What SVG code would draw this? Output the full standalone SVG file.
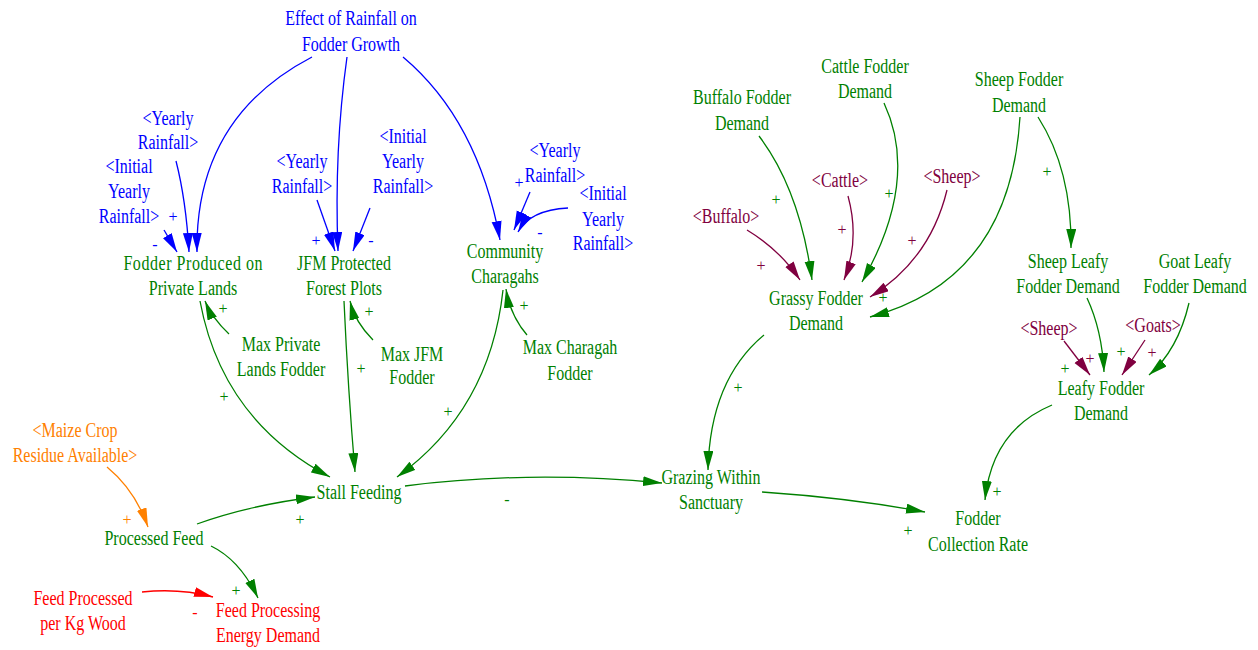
<svg xmlns="http://www.w3.org/2000/svg" width="1258" height="650" viewBox="0 0 1258 650">
<style>
  text { font-family: "Liberation Serif", "Times New Roman", serif; font-size: 20px; text-anchor: middle; }
  .pol { font-size: 16px; }
  .b { fill: #0000ff; } .g { fill: #008000; } .m { fill: #800040; } .o { fill: #ff8000; } .r { fill: #ff0000; }
  .lb { fill: none; stroke: #0000ff; stroke-width: 1.3; marker-end: url(#ab); }
  .lg { fill: none; stroke: #008000; stroke-width: 1.3; marker-end: url(#ag); }
  .lm { fill: none; stroke: #800040; stroke-width: 1.3; marker-end: url(#am); }
  .lo { fill: none; stroke: #ff8000; stroke-width: 1.3; marker-end: url(#ao); }
  .lr { fill: none; stroke: #ff0000; stroke-width: 1.3; marker-end: url(#ar); }
</style>
<defs>
  <marker id="ab" markerUnits="userSpaceOnUse" markerWidth="20" markerHeight="11" refX="19" refY="5" orient="auto"><path d="M0,0 L19,5 L0,10 z" fill="#0000ff"/></marker>
  <marker id="ag" markerUnits="userSpaceOnUse" markerWidth="20" markerHeight="11" refX="19" refY="5" orient="auto"><path d="M0,0 L19,5 L0,10 z" fill="#008000"/></marker>
  <marker id="am" markerUnits="userSpaceOnUse" markerWidth="20" markerHeight="11" refX="19" refY="5" orient="auto"><path d="M0,0 L19,5 L0,10 z" fill="#800040"/></marker>
  <marker id="ao" markerUnits="userSpaceOnUse" markerWidth="20" markerHeight="11" refX="19" refY="5" orient="auto"><path d="M0,0 L19,5 L0,10 z" fill="#ff8000"/></marker>
  <marker id="ar" markerUnits="userSpaceOnUse" markerWidth="20" markerHeight="11" refX="19" refY="5" orient="auto"><path d="M0,0 L19,5 L0,10 z" fill="#ff0000"/></marker>
</defs>
<rect width="1258" height="650" fill="#ffffff"/>

<!-- links -->
<g id="connectors">
  <path class="lb" d="M312,57 Q195,118 197,252"/>
  <path class="lb" d="M176,161 Q186,200 189,252"/>
  <path class="lb" d="M164,230 L177,252"/>
  <path class="lb" d="M317,200 L335,251"/>
  <path class="lb" d="M347,57 Q334,150 338,251"/>
  <path class="lb" d="M370,208 L353,251"/>
  <path class="lb" d="M403,57 Q478,120 500,240"/>
  <path class="lb" d="M530,192 L514,230"/>
  <path class="lb" d="M568,208 Q530,210 518,232"/>

  <path class="lg" d="M527,335 Q510,315 506,289"/>
  <path class="lg" d="M229,334 Q212,318 205,301"/>
  <path class="lg" d="M200,301 Q222,420 330,477"/>
  <path class="lg" d="M373,340 Q355,322 350,301"/>
  <path class="lg" d="M344,301 Q348,390 355,472"/>
  <path class="lg" d="M503,290 Q490,410 397,477"/>
  <path class="lo" d="M107,467 Q135,490 148,527"/>
  <path class="lg" d="M197,524 Q250,505 315,497"/>
  <path class="lg" d="M211,546 Q240,560 258,598"/>
  <path class="lr" d="M142,592 Q180,588 213,597"/>
  <path class="lg" d="M405,486 Q530,470 662,483"/>
  <path class="lg" d="M762,492 Q850,498 925,512"/>
  <path class="lg" d="M764,335 Q710,380 708,470"/>
  <path class="lg" d="M1052,405 Q992,430 985,500"/>

  <path class="lg" d="M759,136 Q800,190 812,280"/>
  <path class="lm" d="M747,230 Q780,250 800,280"/>
  <path class="lm" d="M848,196 Q860,240 844,280"/>
  <path class="lg" d="M884,103 Q920,180 862,282"/>
  <path class="lm" d="M947,190 Q930,260 870,297"/>
  <path class="lg" d="M1020,117 Q1010,280 870,317"/>
  <path class="lg" d="M1038,117 Q1072,170 1071,248"/>
  <path class="lg" d="M1087,298 Q1102,330 1104,372"/>
  <path class="lm" d="M1064,341 L1090,375"/>
  <path class="lm" d="M1145,340 L1122,375"/>
  <path class="lg" d="M1189,303 Q1178,350 1149,375"/>
</g>

<!-- polarity signs -->
<g id="polarities">
  <text class="pol b" x="173" y="222">+</text>
  <text class="pol b" x="155" y="250">-</text>
  <text class="pol b" x="316" y="246">+</text>
  <text class="pol b" x="371" y="246">-</text>
  <text class="pol b" x="519" y="188">+</text>
  <text class="pol b" x="540" y="238">-</text>
  <text class="pol g" x="223" y="314">+</text>
  <text class="pol g" x="224" y="402">+</text>
  <text class="pol g" x="369" y="317">+</text>
  <text class="pol g" x="361" y="374">+</text>
  <text class="pol g" x="524" y="311">+</text>
  <text class="pol g" x="448" y="417">+</text>
  <text class="pol o" x="127" y="525">+</text>
  <text class="pol g" x="300" y="525">+</text>
  <text class="pol g" x="236" y="596">+</text>
  <text class="pol r" x="195" y="618">-</text>
  <text class="pol g" x="507" y="505">-</text>
  <text class="pol g" x="738" y="393">+</text>
  <text class="pol g" x="908" y="536">+</text>
  <text class="pol g" x="997" y="497">+</text>
  <text class="pol g" x="776" y="205">+</text>
  <text class="pol m" x="761" y="271">+</text>
  <text class="pol m" x="842" y="235">+</text>
  <text class="pol g" x="889" y="199">+</text>
  <text class="pol m" x="912" y="246">+</text>
  <text class="pol g" x="883" y="303">+</text>
  <text class="pol g" x="1047" y="177">+</text>
  <text class="pol g" x="1065" y="374">+</text>
  <text class="pol m" x="1090" y="364">+</text>
  <text class="pol g" x="1121" y="357">+</text>
  <text class="pol m" x="1152" y="358">+</text>
</g>

<!-- variables -->
<g id="effect-rainfall" transform="translate(351,25) scale(0.8 1)"><text class="b"><tspan x="0" y="0">Effect of Rainfall on</tspan><tspan x="0" y="26">Fodder Growth</tspan></text></g>
<g id="yearly-rainfall-1" transform="translate(168,125) scale(0.8 1)"><text class="b"><tspan x="0" y="0">&lt;Yearly</tspan><tspan x="0" y="24">Rainfall&gt;</tspan></text></g>
<g id="initial-rainfall-1" transform="translate(129,173) scale(0.8 1)"><text class="b"><tspan x="0" y="0">&lt;Initial</tspan><tspan x="0" y="25">Yearly</tspan><tspan x="0" y="50">Rainfall&gt;</tspan></text></g>
<g id="yearly-rainfall-2" transform="translate(302,168) scale(0.8 1)"><text class="b"><tspan x="0" y="0">&lt;Yearly</tspan><tspan x="0" y="25">Rainfall&gt;</tspan></text></g>
<g id="initial-rainfall-2" transform="translate(403,143) scale(0.8 1)"><text class="b"><tspan x="0" y="0">&lt;Initial</tspan><tspan x="0" y="25">Yearly</tspan><tspan x="0" y="50">Rainfall&gt;</tspan></text></g>
<g id="yearly-rainfall-3" transform="translate(555,157) scale(0.8 1)"><text class="b"><tspan x="0" y="0">&lt;Yearly</tspan><tspan x="0" y="25">Rainfall&gt;</tspan></text></g>
<g id="initial-rainfall-3" transform="translate(603,200) scale(0.8 1)"><text class="b"><tspan x="0" y="0">&lt;Initial</tspan><tspan x="0" y="26">Yearly</tspan><tspan x="0" y="50">Rainfall&gt;</tspan></text></g>

<g id="private-lands" transform="translate(193,270) scale(0.8 1)"><text class="g"><tspan x="0" y="0" textLength="174" lengthAdjust="spacing">Fodder Produced on</tspan><tspan x="0" y="25">Private Lands</tspan></text></g>
<g id="jfm-plots" transform="translate(344,270) scale(0.8 1)"><text class="g"><tspan x="0" y="0">JFM Protected</tspan><tspan x="0" y="25">Forest Plots</tspan></text></g>
<g id="charagahs" transform="translate(505,258) scale(0.8 1)"><text class="g"><tspan x="0" y="0">Community</tspan><tspan x="0" y="25">Charagahs</tspan></text></g>
<g id="max-private" transform="translate(281,351) scale(0.8 1)"><text class="g"><tspan x="0" y="0">Max Private</tspan><tspan x="0" y="25">Lands Fodder</tspan></text></g>
<g id="max-jfm" transform="translate(412,361) scale(0.8 1)"><text class="g"><tspan x="0" y="0">Max JFM</tspan><tspan x="0" y="23">Fodder</tspan></text></g>
<g id="max-charagah" transform="translate(570,354) scale(0.8 1)"><text class="g"><tspan x="0" y="0">Max Charagah</tspan><tspan x="0" y="26">Fodder</tspan></text></g>

<g id="stall-feeding" transform="translate(359,499) scale(0.8 1)"><text class="g">Stall Feeding</text></g>
<g id="maize-residue" transform="translate(75,437) scale(0.8 1)"><text class="o"><tspan x="0" y="0">&lt;Maize Crop</tspan><tspan x="0" y="25">Residue Available&gt;</tspan></text></g>
<g id="processed-feed" transform="translate(154,545) scale(0.8 1)"><text class="g">Processed Feed</text></g>
<g id="feed-per-wood" transform="translate(83,605) scale(0.8 1)"><text class="r"><tspan x="0" y="0">Feed Processed</tspan><tspan x="0" y="25">per Kg Wood</tspan></text></g>
<g id="energy-demand" transform="translate(268,617) scale(0.8 1)"><text class="r"><tspan x="0" y="0">Feed Processing</tspan><tspan x="0" y="25">Energy Demand</tspan></text></g>

<g id="grazing" transform="translate(711,484) scale(0.8 1)"><text class="g"><tspan x="0" y="0">Grazing Within</tspan><tspan x="0" y="25">Sanctuary</tspan></text></g>
<g id="collection-rate" transform="translate(978,525) scale(0.8 1)"><text class="g"><tspan x="0" y="0">Fodder</tspan><tspan x="0" y="26">Collection Rate</tspan></text></g>

<g id="buffalo-demand" transform="translate(742,104) scale(0.8 1)"><text class="g"><tspan x="0" y="0">Buffalo Fodder</tspan><tspan x="0" y="26">Demand</tspan></text></g>
<g id="cattle-demand" transform="translate(865,73) scale(0.8 1)"><text class="g"><tspan x="0" y="0">Cattle Fodder</tspan><tspan x="0" y="25">Demand</tspan></text></g>
<g id="sheep-demand" transform="translate(1019,86) scale(0.8 1)"><text class="g"><tspan x="0" y="0">Sheep Fodder</tspan><tspan x="0" y="26">Demand</tspan></text></g>
<g id="buffalo" transform="translate(726,223) scale(0.8 1)"><text class="m">&lt;Buffalo&gt;</text></g>
<g id="cattle" transform="translate(840,187) scale(0.8 1)"><text class="m">&lt;Cattle&gt;</text></g>
<g id="sheep-1" transform="translate(952,183) scale(0.8 1)"><text class="m">&lt;Sheep&gt;</text></g>
<g id="grassy-demand" transform="translate(816,305) scale(0.8 1)"><text class="g"><tspan x="0" y="0">Grassy Fodder</tspan><tspan x="0" y="25">Demand</tspan></text></g>

<g id="sheep-leafy" transform="translate(1068,268) scale(0.8 1)"><text class="g"><tspan x="0" y="0">Sheep Leafy</tspan><tspan x="0" y="25">Fodder Demand</tspan></text></g>
<g id="goat-leafy" transform="translate(1195,268) scale(0.8 1)"><text class="g"><tspan x="0" y="0">Goat Leafy</tspan><tspan x="0" y="25">Fodder Demand</tspan></text></g>
<g id="sheep-2" transform="translate(1049,335) scale(0.8 1)"><text class="m">&lt;Sheep&gt;</text></g>
<g id="goats" transform="translate(1153,332) scale(0.8 1)"><text class="m">&lt;Goats&gt;</text></g>
<g id="leafy-demand" transform="translate(1101,395) scale(0.8 1)"><text class="g"><tspan x="0" y="0">Leafy Fodder</tspan><tspan x="0" y="25">Demand</tspan></text></g>
</svg>
